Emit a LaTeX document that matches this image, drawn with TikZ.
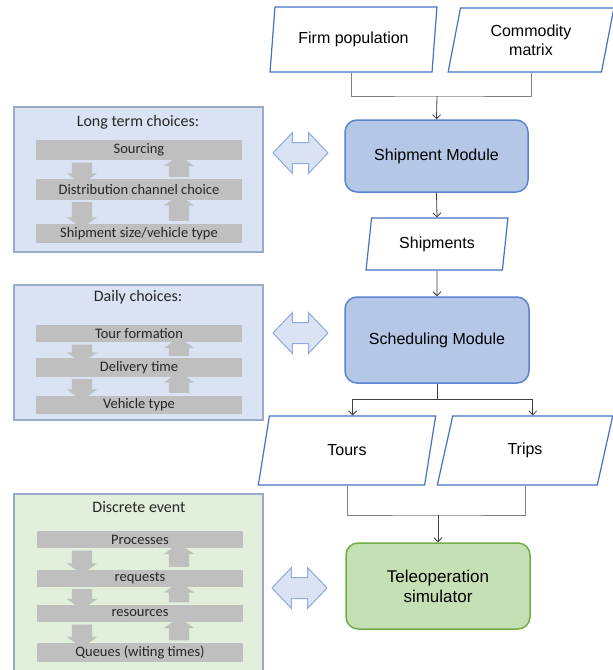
\documentclass[tikz,border=0pt]{standalone}
\usepackage{fontspec}
\setmainfont{Liberation Sans}
\newfontfamily\panelfont{Carlito}
\usetikzlibrary{arrows.meta,shapes.geometric,shapes.arrows}
\definecolor{modfill}{HTML}{B4C7E7}
\definecolor{modline}{HTML}{5B83CF}
\definecolor{dataline}{HTML}{4472C4}
\definecolor{panelblue}{HTML}{DAE3F3}
\definecolor{panelgreen}{HTML}{E2EFDA}
\definecolor{panelline}{HTML}{9AAACB}
\definecolor{barfill}{HTML}{BFBFBF}
\definecolor{dblfill}{HTML}{DAE3F3}
\definecolor{dblline}{HTML}{8FAADC}
\definecolor{telefill}{HTML}{C5E0B4}
\definecolor{teleline}{HTML}{70AD47}
\tikzset {>={Straight Barb[length=4pt,width=8pt]}}

\begin{document}
\begin{tikzpicture}[x=1pt,y=-1pt,
  data/.style={trapezium, trapezium stretches=true, draw=dataline, line width=1.2pt,
    fill=white, inner sep=0pt, align=center, font=\fontsize{16}{19}\selectfont},
  module/.style={rectangle, rounded corners=12pt, draw=modline, line width=1.5pt,
    fill=modfill, align=center, font=\fontsize{16}{19}\selectfont},
  panel/.style={rectangle, draw=panelline, line width=1.4pt, inner sep=0pt,
    minimum width=249pt},
  bar/.style={rectangle, fill=barfill, inner sep=0pt, minimum width=206pt,
    text=black!85, font=\panelfont\fontsize{14.5}{17}\selectfont},
  title/.style={text=black!85, font=\panelfont\fontsize{16}{19}\selectfont},
  garrow/.style={single arrow, fill=barfill, inner xsep=0pt, inner ysep=10pt,
    single arrow head extend=5pt, single arrow tip angle=110},
  dblarrow/.style={double arrow, draw=dblline, fill=dblfill, line width=1pt,
    inner xsep=0pt, inner ysep=10pt, double arrow head extend=10pt,
    double arrow tip angle=93, minimum height=55pt},
  joinline/.style={draw=black!50, line width=1pt},
  flow/.style={draw=black!75, line width=0.8pt, ->}]
\useasboundingbox (0,0) rectangle (613,670);

% left panels
\node[panel, fill=panelblue, minimum height=145pt] (longterm) at (138.5,179.5) {};
\node[panel, fill=panelblue, minimum height=135pt] (daily) at (138.5,352.5) {};
\node[panel, fill=panelgreen, minimum height=178pt] (discrete) at (138.5,583) {};

\node[title] (ltitle) at (138,122) {Long term choices:};
\node[title] (dtitle) at (138,297) {Daily choices:};
\node[title] (etitle) at (139,507) {Discrete event};

\foreach \a/\b in {160/179.5, 199.5/223.5, 342/358.5, 376.5/395.5, 548/569.5, 586.5/605, 622/643} {
  \node[garrow, rotate=-90, minimum height=\b-\a+2] at (82,{(\a+\b)/2}) {};
  \node[garrow, rotate=90, minimum height=\b-\a+2] at (179,{(\a+\b)/2}) {};
}

\node[bar, minimum height=20pt] (sourcing) at (139,150) {Sourcing};
\node[bar, minimum height=21pt] (channel) at (139,189.5) {Distribution channel choice};
\node[bar, minimum height=19pt] (shipsize) at (139,233.5) {Shipment size/vehicle type};

\node[bar, minimum height=17pt] (tourform) at (139,333.5) {Tour formation};
\node[bar, minimum height=19pt] (deltime) at (139,367.5) {Delivery time};
\node[bar, minimum height=18pt] (vehtype) at (139,404.5) {Vehicle type};

\node[bar, minimum height=17pt] (processes) at (140,539.5) {Processes};
\node[bar, minimum height=17pt] (requests) at (140,578) {requests};
\node[bar, minimum height=17pt] (resources) at (140,613.5) {resources};
\node[bar, minimum height=19pt] (queues) at (140,652.5) {Queues (witing times)};

% links between panels and modules
\node[dblarrow] (link1) at (300.5,153) {};
\node[dblarrow] (link2) at (300.5,333) {};
\node[dblarrow] (link3) at (299.5,588) {};

% flow chart
\node[data, trapezium left angle=77, trapezium right angle=103,
  minimum width=167pt, minimum height=65pt] (firm) at (353.5,39.5) {Firm population};
\node[data, trapezium left angle=77, trapezium right angle=103,
  minimum width=166pt, minimum height=64pt] (commod) at (531,40) {Commodity\\matrix};
\node[module, minimum width=183pt, minimum height=72pt] (ship) at (436.5,156) {Shipment Module};
\node[data, trapezium left angle=78, trapezium right angle=102,
  minimum width=142pt, minimum height=52pt] (shipments) at (437,244) {Shipments};
\node[module, minimum width=184pt, minimum height=86pt] (sched) at (437,340) {Scheduling Module};
\node[data, trapezium left angle=76, trapezium right angle=104,
  minimum width=178pt, minimum height=69pt] (tours) at (347,450.5) {Tours};
\node[data, trapezium left angle=76, trapezium right angle=104,
  minimum width=176pt, minimum height=69pt] (trips) at (525,450.5) {Trips};
\node[module, draw=teleline, fill=telefill, minimum width=184pt, minimum height=86pt,
  font=\fontsize{17}{20}\selectfont] (tele) at (438,586) {Teleoperation\\simulator};

\coordinate (join1) at (437,96);
\coordinate (split) at (437,399);
\coordinate (join2) at (438,515);

\draw[joinline] (firm.bottom side) |- (join1) -| (commod.south);
\draw[flow] (join1) -- (ship.north);
\draw[flow] (ship.south) -- (shipments.north);
\draw[flow] (shipments.south) -- (sched.north);
\draw[draw=black!75, line width=0.8pt] (sched.south) -- (split);
\draw[flow] (split) -| (tours.top side);
\draw[flow] (split) -| (trips.top side);
\draw[joinline] (tours.south) |- (join2) -| (trips.south);
\draw[flow] (join2) -- (tele.north);
\end{tikzpicture}
\end{document}
